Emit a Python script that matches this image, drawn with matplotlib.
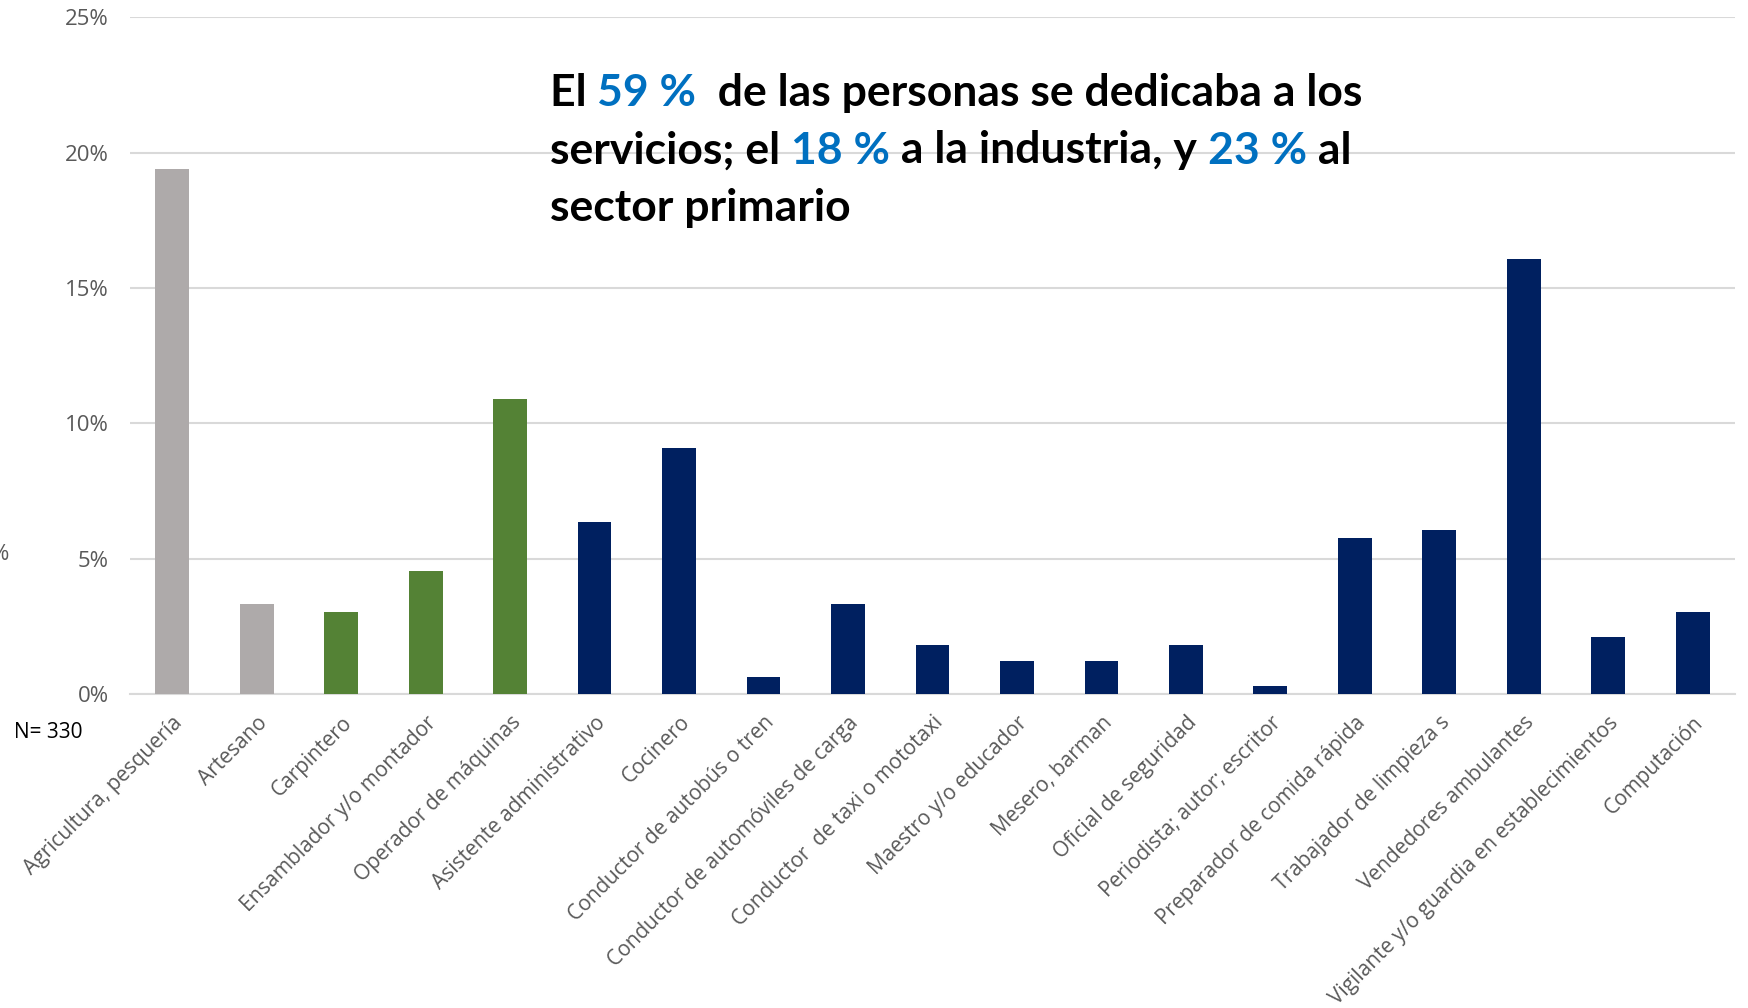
import matplotlib
matplotlib.use("Agg")
import matplotlib.pyplot as plt
from matplotlib.ticker import FuncFormatter

plt.rcParams['font.family'] = ['Open Sans', 'DejaVu Sans']

# Data (percent of N = 330)
ocupaciones = [
    "Agricultura, pesquería", "Artesano", "Carpintero",
    "Ensamblador y/o montador", "Operador de máquinas",
    "Asistente administrativo", "Cocinero",
    "Conductor de autobús o tren", "Conductor de automóviles de carga",
    "Conductor  de taxi o mototaxi", "Maestro y/o educador",
    "Mesero, barman", "Oficial de seguridad", "Periodista; autor; escritor",
    "Preparador de comida rápida", "Trabajador de limpieza s",
    "Vendedores ambulantes", "Vigilante y/o guardia en establecimientos",
    "Computación",
]
porcentajes = [19.39, 3.33, 3.03, 4.55, 10.91, 6.36, 9.09, 0.61, 3.33, 1.82,
               1.21, 1.21, 1.82, 0.30, 5.76, 6.06, 16.06, 2.12, 3.03]
sectores = ["primario"] * 2 + ["industria"] * 3 + ["servicios"] * 14
colores_sector = {"primario": "#AEAAAA", "industria": "#548235",
                  "servicios": "#002060"}
yticks = [0, 5, 10, 15, 20, 25]

fig = plt.figure(figsize=(17.49, 10.08), dpi=100)
ax = fig.add_axes([0.0743, 0.3115, 0.9177, 0.6715])

x = range(len(ocupaciones))
ax.bar(x, porcentajes, width=0.4,
       color=[colores_sector[s] for s in sectores], zorder=3)

ax.set_xlim(-0.5, len(ocupaciones) - 0.5)
ax.set_ylim(0, 25)
ax.set_yticks(yticks)
ax.yaxis.set_major_formatter(FuncFormatter(lambda v, p: f"{v:.0f}%"))
ax.grid(axis="y", color="#D9D9D9", linewidth=1.5, zorder=0)
for s in ["top", "right", "left"]:
    ax.spines[s].set_visible(False)
ax.spines["bottom"].set_color("#D9D9D9")
ax.spines["bottom"].set_linewidth(1.5)
ax.tick_params(axis="both", length=0, colors="#595959")
ax.tick_params(axis="y", pad=15, labelsize=16)

ax.set_xticks(list(x))
ax.set_xticklabels(ocupaciones, rotation=45, ha="right",
                   rotation_mode="anchor", fontsize=15, color="#595959")
ax.tick_params(axis="x", pad=13)

# stray axis label and sample size
fig.text(0.0, 1 - 555 / 1008, "%", ha="center", va="center",
         fontsize=16, color="#595959")
fig.text(14 / 1749, 1 - 733 / 1008, "N= 330", ha="left", va="center",
         fontsize=15, color="black")

# Headline with coloured figures
negro, azul = "black", "#0070C0"
lineas = [
    [("El ", negro), ("59 %", azul), ("  de las personas se dedicaba a los", negro)],
    [("servicios; el ", negro), ("18 %", azul), (" a la industria, y ", negro),
     ("23 %", azul), (" al", negro)],
    [("sector primario", negro)],
]
x0 = 550 / 1749
y0 = 1 - 106 / 1008
dy = 57.5 / 1008
for i, linea in enumerate(lineas):
    prev = None
    for texto, col in linea:
        kw = dict(fontsize=32, fontweight="bold", color=col,
                  family=["Lato", "DejaVu Sans"], ha="left")
        if prev is None:
            prev = fig.text(x0, y0 - i * dy, texto, va="baseline", **kw)
        else:
            prev = ax.annotate(texto, xy=(1, 0), xycoords=prev, va="bottom",
                               annotation_clip=False, **kw)

fig.savefig("out.png", dpi=100)
